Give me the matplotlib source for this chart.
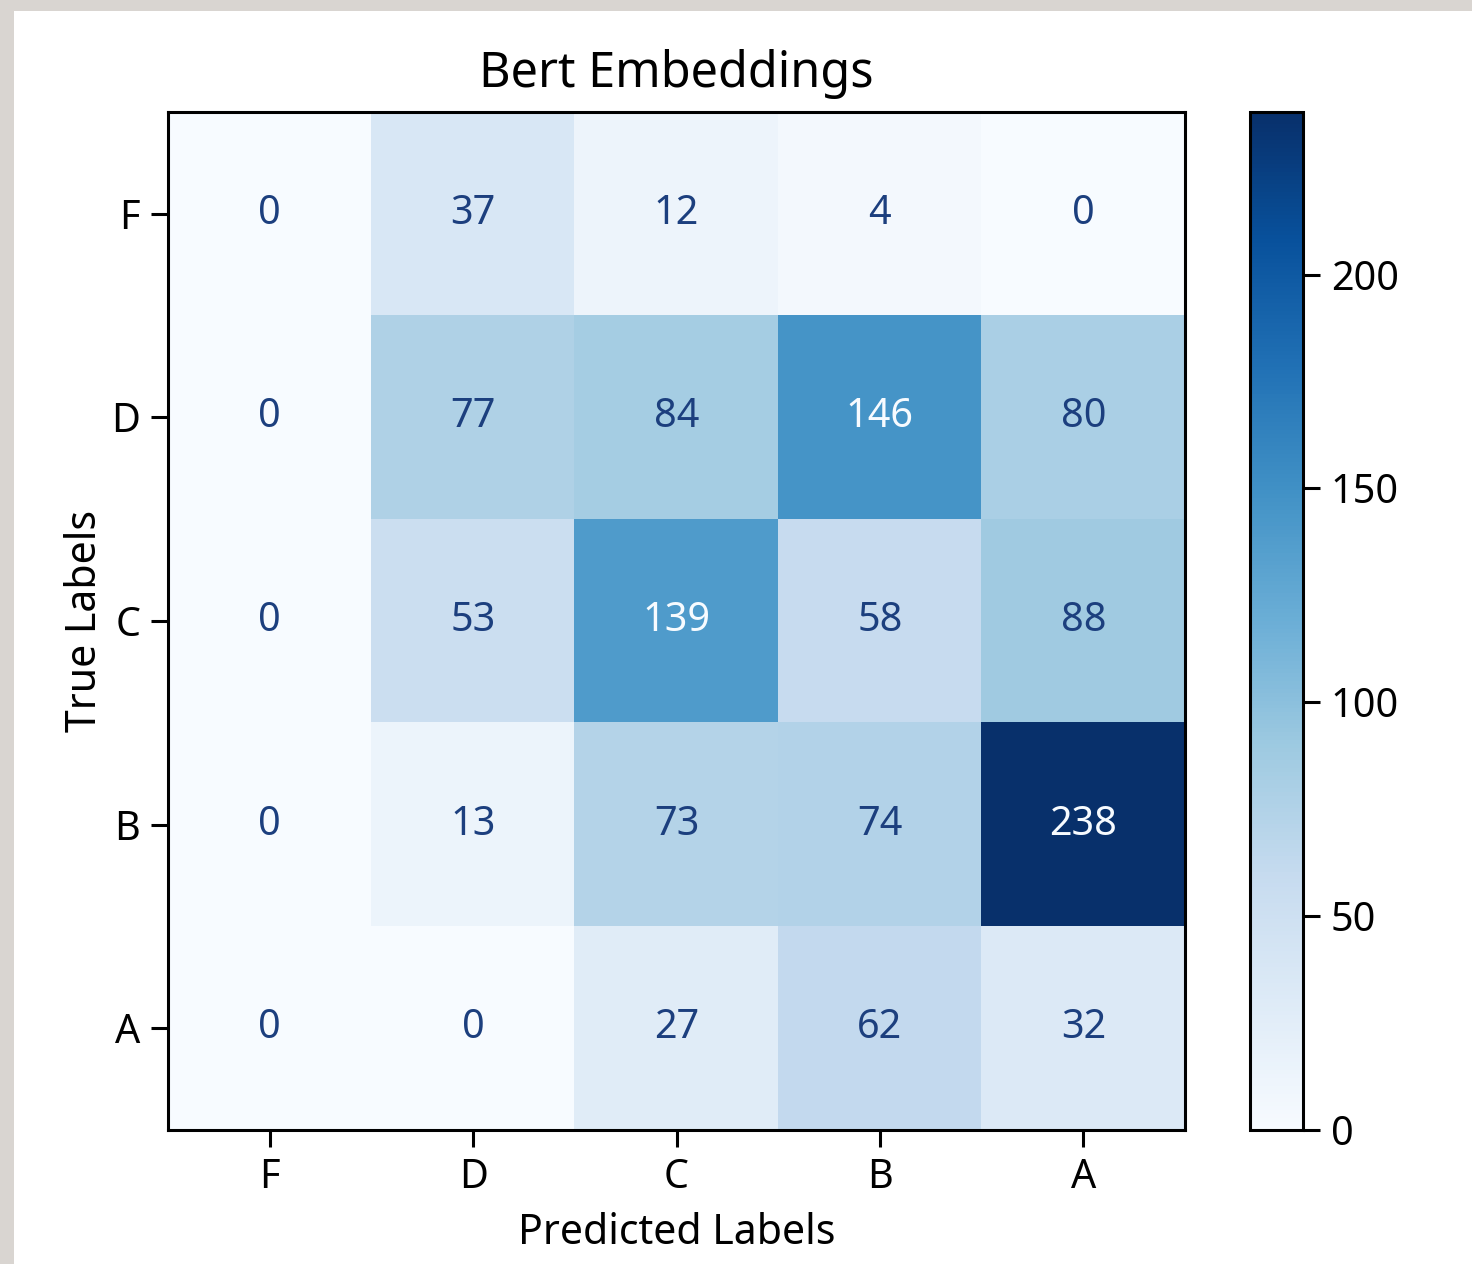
import numpy as np
import matplotlib
matplotlib.use('Agg')
import matplotlib.pyplot as plt
from matplotlib.patches import Rectangle

plt.rcParams['font.family'] = ['Noto Sans', 'DejaVu Sans']

labels = ['F', 'D', 'C', 'B', 'A']
# rows = true label, columns = predicted label
row_F = [0, 37, 12, 4, 0]
row_D = [0, 77, 84, 146, 80]
row_C = [0, 53, 139, 58, 88]
row_B = [0, 13, 73, 74, 238]
row_A = [0, 0, 27, 62, 32]

cm = np.array([row_F, row_D, row_C, row_B, row_A])

fig = plt.figure(figsize=(14.72, 12.64), dpi=100, facecolor='white')
# grey frame strips along the top and left edge
frame = '#d9d5d1'
fig.patches.append(Rectangle((0, 0), 14 / 1472, 1, transform=fig.transFigure,
                             facecolor=frame, edgecolor='none'))
fig.patches.append(Rectangle((0, 1 - 11 / 1264), 1, 11 / 1264,
                             transform=fig.transFigure,
                             facecolor=frame, edgecolor='none'))

ax = fig.add_axes([168 / 1472, 1 - 1130 / 1264, 1017 / 1472, 1018 / 1264])
cax = fig.add_axes([1250 / 1472, 1 - 1130 / 1264, 53 / 1472, 1018 / 1264])

cmap = plt.cm.Blues
im = ax.imshow(cm, cmap=cmap, interpolation='nearest', aspect='auto')

thresh = (cm.max() + cm.min()) / 2.0
for i in range(cm.shape[0]):
    for j in range(cm.shape[1]):
        color = cmap(0.0) if cm[i, j] > thresh else '#1c3f7e'
        ax.text(j, i, str(cm[i, j]), ha='center', va='center',
                color=color, fontsize=28.5)

ax.set_xticks(range(len(labels)))
ax.set_yticks(range(len(labels)))
ax.set_xticklabels(labels)
ax.set_yticklabels(labels)
ax.tick_params(labelsize=28.5, length=12, width=2.2, pad=8)
for s in ax.spines.values():
    s.set_linewidth(2.2)
ax.set_xlabel('Predicted Labels', fontsize=29.5, labelpad=10)
ax.set_ylabel('True Labels', fontsize=29.5, labelpad=4)
ax.set_title('Bert Embeddings', fontsize=35, pad=18)

cb = fig.colorbar(im, cax=cax)
cb.set_ticks([0, 50, 100, 150, 200])
cb.ax.tick_params(labelsize=28.5, length=12, width=2.2, pad=8)
cb.outline.set_linewidth(2.2)

fig.savefig('out.png', dpi=100, facecolor='white')
